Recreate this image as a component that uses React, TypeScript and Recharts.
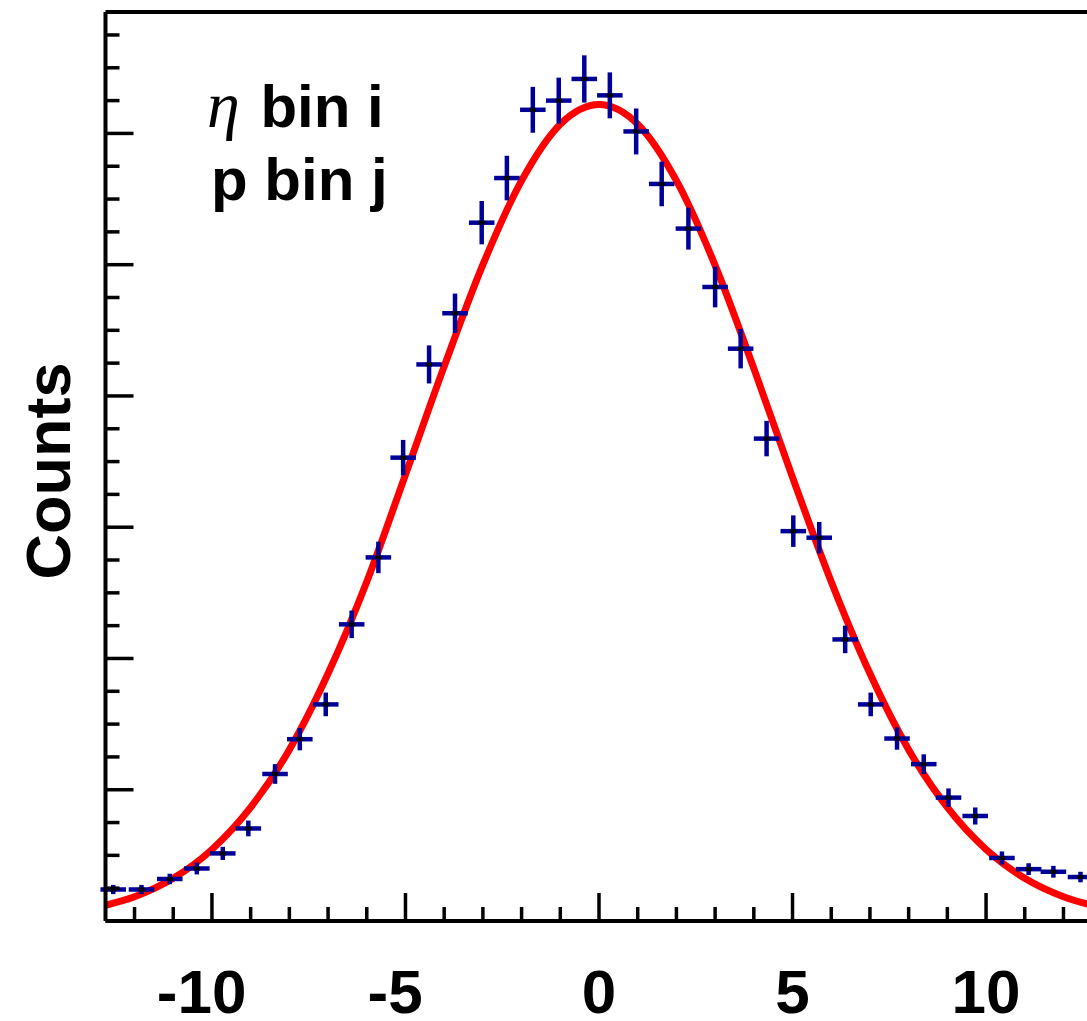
import React from 'react';
import { ComposedChart, Scatter, Line, XAxis, YAxis, ErrorBar, ReferenceLine } from 'recharts';

// histogram points (bin centre, counts, stat. error)
const binCenters = [
  -12.55, -11.82, -11.09, -10.39, -9.72, -9.06, -8.37, -7.73, -7.06, -6.39, -5.7, -5.06, -4.39,
  -3.72, -3.03, -2.38, -1.71, -1.04, -0.38, 0.28, 0.96, 1.62, 2.31, 3.0, 3.66, 4.33, 5.02, 5.69,
  6.36, 7.02, 7.7, 8.39, 9.03, 9.72, 10.41, 11.1, 11.74, 12.44,
];
const counts = [
  48, 48, 64, 80, 103, 141, 224, 277, 330, 452, 554, 706, 848, 926, 1064, 1132, 1236, 1250, 1283,
  1258, 1203, 1123, 1055, 966, 872, 735, 594, 584, 429, 330, 278, 239, 188, 160, 96, 79, 75, 67,
];
const countErrors = [
  7, 7, 8, 9, 10, 12, 15, 17, 18, 21, 24, 27, 29, 30, 33, 34, 35, 35, 36, 35, 35, 34, 32, 31, 30,
  27, 24, 24, 21, 18, 17, 15, 14, 13, 10, 9, 9, 8,
];
const halfBin = 0.33;

// gaussian fit
const fitX = [-12.75, -12, -11, -10, -9, -8, -7, -6, -5, -4, -3, -2, -1, 0, 1, 2, 3, 4, 5, 6, 7, 8, 9, 10, 11, 12, 12.75];
const fitY = [24, 37, 65, 109, 173, 261, 377, 517, 680, 845, 1000, 1128, 1214, 1244, 1214, 1128, 999, 842, 676, 517, 377, 261, 173, 109, 65, 37, 24];

const xTicks = [-12, -11, -10, -9, -8, -7, -6, -5, -4, -3, -2, -1, 0, 1, 2, 3, 4, 5, 6, 7, 8, 9, 10, 11, 12];
const xLabels = [-10, -5, 0, 5, 10];
const yTicks = [0, 50, 100, 150, 200, 250, 300, 350, 400, 450, 500, 550, 600, 650, 700, 750, 800, 850, 900, 950, 1000, 1050, 1100, 1150, 1200, 1250, 1300, 1350];
const yMajor = [0, 200, 400, 600, 800, 1000, 1200];

const X_MIN = -12.75;
const X_MAX = 12.75;
const Y_MAX = 1385;

const points = binCenters.map((x, i) => ({ x, y: counts[i], ex: halfBin, ey: countErrors[i] }));
const fit = fitX.map((x, i) => ({ x, y: fitY[i] }));

const FONT = '"Liberation Sans", Arial, Helvetica, sans-serif';
const BLUE = '#000099';

function XTick(props: any) {
  const { x, y, payload } = props;
  const v = payload.value as number;
  const major = xLabels.includes(v);
  const fs = 62;
  const digits = String(Math.abs(v)).length;
  return (
    <g>
      <line x1={x} x2={x} y1={y} y2={y - (major ? 28 : 14)} stroke="#000" strokeWidth={3.5} />
      {major && (
        <text
          x={x + (digits * 0.556 * fs) / 2}
          y={y + 92}
          textAnchor="end"
          fontFamily={FONT}
          fontWeight="bold"
          fontSize={fs}
          fill="#000"
        >
          {v}
        </text>
      )}
    </g>
  );
}

function YTick(props: any) {
  const { x, y, payload } = props;
  const major = yMajor.includes(payload.value);
  return <line x1={x} x2={x + (major ? 28 : 14)} y1={y} y2={y} stroke="#000" strokeWidth={3.5} />;
}

const dotShape = (p: any) => <rect x={p.cx - 3} y={p.cy - 2} width={6} height={4} fill="#000" />;

export default function App() {
  return (
    <div
      style={{
        position: 'fixed',
        left: 0,
        top: 0,
        width: 1087,
        height: 1021,
        overflow: 'hidden',
        background: '#fff',
      }}
    >
      <ComposedChart width={1100} height={1021} margin={{ top: 12, right: 7.5, bottom: 0, left: 0.5 }}>
        <XAxis
          type="number"
          dataKey="x"
          domain={[X_MIN, X_MAX]}
          allowDataOverflow
          ticks={xTicks}
          interval={0}
          tick={<XTick />}
          tickLine={false}
          tickSize={0}
          tickMargin={0}
          height={100}
          axisLine={{ stroke: '#000', strokeWidth: 4 }}
        />
        <YAxis
          type="number"
          dataKey="y"
          domain={[0, Y_MAX]}
          allowDataOverflow
          ticks={yTicks}
          interval={0}
          tick={<YTick />}
          tickLine={false}
          tickSize={0}
          tickMargin={0}
          width={105}
          axisLine={{ stroke: '#000', strokeWidth: 4 }}
        />
        <ReferenceLine y={Y_MAX} stroke="#000" strokeWidth={4} />
        <ReferenceLine x={X_MAX} stroke="#000" strokeWidth={4} />
        <Line
          data={fit}
          dataKey="y"
          type="monotone"
          stroke="#ff0000"
          strokeWidth={7}
          dot={false}
          activeDot={false}
          isAnimationActive={false}
        />
        <Scatter data={points} dataKey="y" shape={dotShape} isAnimationActive={false}>
          <ErrorBar dataKey="ex" direction="x" width={0} stroke={BLUE} strokeWidth={4.5} isAnimationActive={false} />
          <ErrorBar dataKey="ey" direction="y" width={0} stroke={BLUE} strokeWidth={4.5} isAnimationActive={false} />
        </Scatter>
      </ComposedChart>
      <svg
        width={1087}
        height={1021}
        style={{ position: 'absolute', left: 0, top: 0, pointerEvents: 'none' }}
      >
        <text
          transform="translate(70,471) rotate(-90)"
          textAnchor="middle"
          fontFamily={FONT}
          fontWeight="bold"
          fontSize={63}
          fill="#000"
        >
          Counts
        </text>
        <text x={207} y={127} fontFamily={FONT} fontWeight="bold" fontSize={60} fill="#000">
          <tspan
            fontFamily='"Liberation Serif", "DejaVu Serif", serif'
            fontStyle="italic"
            fontWeight="normal"
            fontSize={66}
          >
            η
          </tspan>
          <tspan dx={4}> bin i</tspan>
        </text>
        <text x={211} y={200} fontFamily={FONT} fontWeight="bold" fontSize={60} fill="#000">
          p bin j
        </text>
      </svg>
    </div>
  );
}
